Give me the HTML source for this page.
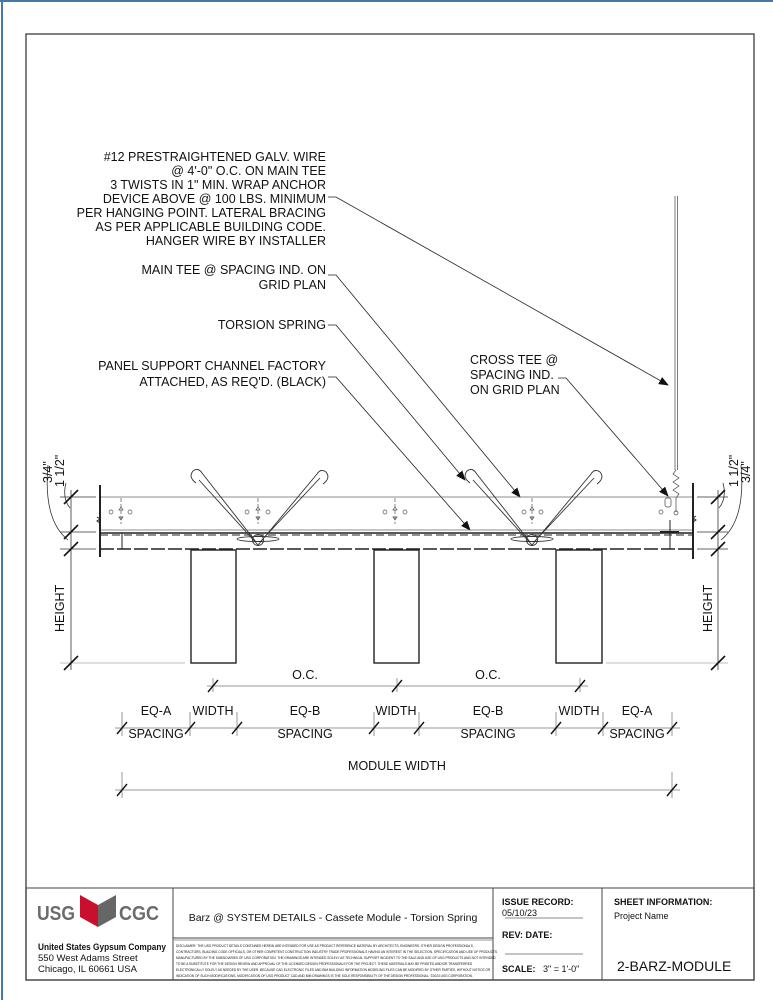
<!DOCTYPE html>
<html><head><meta charset="utf-8"><style>
html,body{margin:0;padding:0;background:#fff;}
svg{display:block;}
text{font-family:"Liberation Sans",Arial,sans-serif;fill:#111;}
</style></head><body>
<svg width="773" height="1000" viewBox="0 0 773 1000" xmlns="http://www.w3.org/2000/svg">
<defs>
<marker id="ar" markerWidth="10" markerHeight="8" refX="9" refY="4" orient="auto" markerUnits="userSpaceOnUse">
<path d="M0,0 L10,4 L0,8 z" fill="#111"/></marker>
</defs>
<rect x="0" y="0" width="773" height="1000" fill="#fff"/>
<line x1="0" y1="1" x2="773" y2="1" stroke="#4a78a6" stroke-width="2"/>
<line x1="2" y1="0" x2="2" y2="1000" stroke="#4a78a6" stroke-width="2"/>
<rect x="26" y="34" width="728" height="946" fill="none" stroke="#555" stroke-width="1.5"/>

<!-- notes -->
<g font-size="12.5" text-anchor="end">
<text x="326" y="161">#12 PRESTRAIGHTENED GALV. WIRE</text>
<text x="326" y="175">@ 4'-0" O.C. ON MAIN TEE</text>
<text x="326" y="189">3 TWISTS IN 1" MIN. WRAP ANCHOR</text>
<text x="326" y="203">DEVICE ABOVE @ 100 LBS. MINIMUM</text>
<text x="326" y="217">PER HANGING POINT. LATERAL BRACING</text>
<text x="326" y="231">AS PER APPLICABLE BUILDING CODE.</text>
<text x="326" y="245">HANGER WIRE BY INSTALLER</text>
<text x="326" y="274">MAIN TEE @ SPACING IND. ON</text>
<text x="326" y="289">GRID PLAN</text>
<text x="326" y="329">TORSION SPRING</text>
<text x="326" y="370">PANEL SUPPORT CHANNEL FACTORY</text>
<text x="326" y="386">ATTACHED, AS REQ'D. (BLACK)</text>
</g>
<g font-size="12.5">
<text x="470" y="364">CROSS TEE @</text>
<text x="470" y="379">SPACING IND.</text>
<text x="470" y="394">ON GRID PLAN</text>
</g>
<!-- leaders -->
<g stroke="#222" stroke-width="0.8" fill="none">
<path d="M328,197 L336,197 L668,385" marker-end="url(#ar)"/>
<path d="M328,275 L336,275 L520,497" marker-end="url(#ar)"/>
<path d="M328,325 L336,325 L465,480" marker-end="url(#ar)"/>
<path d="M328,377 L336,377 L470,530" marker-end="url(#ar)"/>
<path d="M558,378 L566,378 L668,496" marker-end="url(#ar)"/>
</g>
<!-- hanger wire -->
<g stroke="#444" stroke-width="0.7" fill="none">
<line x1="675" y1="196" x2="675" y2="470"/><line x1="677.5" y1="196" x2="677.5" y2="470"/>
<path d="M676,470 l-3,4 l6,4 l-6,4 l6,4 l-6,4 l6,4 l-3,4 L676,512"/>
<circle cx="676" cy="513" r="2"/>
<rect x="665" y="498" width="6" height="9" rx="2"/>
</g>

<!-- main tee assembly -->
<g stroke="#222" fill="none">
<line x1="100" y1="497" x2="693" y2="497" stroke-width="0.7" stroke="#666"/>
<line x1="100" y1="530" x2="693" y2="530" stroke-width="0.7" stroke="#666"/>
<line x1="100" y1="533" x2="693" y2="533" stroke-width="1.4"/>
<line x1="100" y1="535" x2="693" y2="535" stroke-width="1" stroke-dasharray="8,4"/>
<line x1="100" y1="549" x2="693" y2="549" stroke-width="1.5" stroke-dasharray="14,3"/>
<line x1="100" y1="485" x2="100" y2="557" stroke-width="2"/>
<line x1="693" y1="483" x2="693" y2="559" stroke-width="2"/>
<path d="M97,517 l3,2 l-3,2 l3,2" stroke-width="1"/>
<path d="M696,516 l-3,2 l3,2 l-3,2" stroke-width="1"/>
<line x1="122" y1="533" x2="122" y2="549" stroke-width="1"/>
<line x1="670" y1="520" x2="670" y2="549" stroke-width="1"/>
<line x1="660" y1="532" x2="679" y2="532" stroke-width="2"/>
<rect x="191" y="550" width="45" height="113" stroke-width="1.4"/>
<rect x="374" y="550" width="45" height="113" stroke-width="1.4"/>
<rect x="556" y="550" width="46" height="113" stroke-width="1.4"/>
</g>
<!-- holes and arrows -->
<g stroke="#555" stroke-width="0.7" fill="none">
<circle cx="111" cy="512" r="2"/><circle cx="130" cy="512" r="2"/>
<circle cx="247" cy="512" r="2"/><circle cx="268" cy="512" r="2"/>
<circle cx="385" cy="512" r="2"/><circle cx="405" cy="512" r="2"/>
<circle cx="524" cy="512" r="2"/><circle cx="541" cy="512" r="2"/>
<circle cx="661" cy="512" r="2"/>
<line x1="121" y1="498" x2="121" y2="524" stroke-dasharray="4,2"/>
<line x1="258" y1="498" x2="258" y2="524" stroke-dasharray="4,2"/>
<line x1="395" y1="498" x2="395" y2="524" stroke-dasharray="4,2"/>
<line x1="532" y1="498" x2="532" y2="524" stroke-dasharray="4,2"/>
<path d="M119,510 l2,-3 l2,3 z M119,517 l2,3 l2,-3 z M256,510 l2,-3 l2,3 z M256,517 l2,3 l2,-3 z M393,510 l2,-3 l2,3 z M393,517 l2,3 l2,-3 z M530,510 l2,-3 l2,3 z M530,517 l2,3 l2,-3 z"/>
</g>
<!-- springs -->
<g stroke="#333" stroke-width="0.9" fill="none">
<path d="M196,483 q-8,-6 -3,-12 q5,-4 9,2 L256,542 M199,480 L258,545 L317,474 q4,-6 9,-2 q5,6 -3,12 M320,478 L260,542"/>
<ellipse cx="258" cy="539" rx="21" ry="2.5"/><circle cx="258" cy="540" r="5.5"/>
<path d="M470,483 q-8,-6 -3,-12 q5,-4 9,2 L530,542 M473,480 L532,545 L591,474 q4,-6 9,-2 q5,6 -3,12 M594,478 L534,542"/>
<ellipse cx="532" cy="539" rx="21" ry="2.5"/><circle cx="532" cy="540" r="5.5"/>
</g>

<!-- left/right vertical dims -->
<g stroke="#333" stroke-width="0.8" fill="none">
<line x1="71" y1="490" x2="71" y2="670"/>
<line x1="60" y1="497" x2="96" y2="497"/><line x1="60" y1="532" x2="96" y2="532"/>
<line x1="60" y1="549" x2="96" y2="549"/><line x1="60" y1="663" x2="185" y2="663" stroke="#aaa"/>
<line x1="718" y1="490" x2="718" y2="670"/>
<line x1="697" y1="497" x2="728" y2="497"/><line x1="697" y1="532" x2="728" y2="532"/>
<line x1="697" y1="549" x2="728" y2="549"/><line x1="606" y1="663" x2="728" y2="663" stroke="#aaa"/>
<path d="M70,508 q-8,-10 -4,-25 M68,540 q-25,-20 -20,-75"/>
<path d="M719,508 q8,-10 4,-25 M721,540 q25,-20 20,-75"/>
</g>
<g stroke="#111" stroke-width="1.6">
<line x1="64" y1="504" x2="78" y2="490"/><line x1="64" y1="539" x2="78" y2="525"/><line x1="64" y1="556" x2="78" y2="542"/><line x1="64" y1="670" x2="78" y2="656"/>
<line x1="711" y1="504" x2="725" y2="490"/><line x1="711" y1="539" x2="725" y2="525"/><line x1="711" y1="556" x2="725" y2="542"/><line x1="711" y1="670" x2="725" y2="656"/>
</g>
<g font-size="12.5">
<text transform="translate(52,483) rotate(-90)">3/4"</text>
<text transform="translate(64,487) rotate(-90)">1 1/2"</text>
<text transform="translate(64,632) rotate(-90)">HEIGHT</text>
<text transform="translate(738,487) rotate(-90)">1 1/2"</text>
<text transform="translate(750,483) rotate(-90)">3/4"</text>
<text transform="translate(712,632) rotate(-90)">HEIGHT</text>
</g>

<!-- horizontal dims -->
<g stroke="#999" stroke-width="1" fill="none">
<line x1="207" y1="686" x2="588" y2="686"/>
<line x1="213" y1="678" x2="213" y2="692"/><line x1="397" y1="678" x2="397" y2="692"/><line x1="580" y1="678" x2="580" y2="692"/>
<line x1="115" y1="728" x2="680" y2="728"/>
<line x1="122" y1="712" x2="122" y2="736"/><line x1="190" y1="712" x2="190" y2="736"/><line x1="237" y1="712" x2="237" y2="736"/><line x1="374" y1="712" x2="374" y2="736"/><line x1="419" y1="712" x2="419" y2="736"/><line x1="556" y1="712" x2="556" y2="736"/><line x1="603" y1="712" x2="603" y2="736"/><line x1="672" y1="712" x2="672" y2="736"/>
<line x1="115" y1="790" x2="680" y2="790"/>
<line x1="122" y1="772" x2="122" y2="798"/><line x1="672" y1="772" x2="672" y2="798"/>
</g>
<g stroke="#111" stroke-width="1.4">
<line x1="208" y1="692" x2="218" y2="680"/><line x1="392" y1="692" x2="402" y2="680"/><line x1="575" y1="692" x2="585" y2="680"/>
<line x1="117" y1="734" x2="127" y2="722"/><line x1="185" y1="734" x2="195" y2="722"/><line x1="232" y1="734" x2="242" y2="722"/><line x1="369" y1="734" x2="379" y2="722"/><line x1="414" y1="734" x2="424" y2="722"/><line x1="551" y1="734" x2="561" y2="722"/><line x1="598" y1="734" x2="608" y2="722"/><line x1="667" y1="734" x2="677" y2="722"/>
<line x1="117" y1="796" x2="127" y2="784"/><line x1="667" y1="796" x2="677" y2="784"/>
</g>
<g font-size="12.5" text-anchor="middle">
<text x="305" y="679">O.C.</text><text x="488" y="679">O.C.</text>
<text x="156" y="715">EQ-A</text><text x="213" y="715">WIDTH</text><text x="305" y="715">EQ-B</text><text x="396" y="715">WIDTH</text><text x="488" y="715">EQ-B</text><text x="579" y="715">WIDTH</text><text x="637" y="715">EQ-A</text>
<text x="156" y="738">SPACING</text><text x="305" y="738">SPACING</text><text x="488" y="738">SPACING</text><text x="637" y="738">SPACING</text>
<text x="397" y="770">MODULE WIDTH</text>
</g>

<!-- title block -->
<g stroke="#444" stroke-width="1" fill="none">
<rect x="26" y="888" width="728" height="92"/>
<line x1="173" y1="888" x2="173" y2="980"/>
<line x1="493" y1="888" x2="493" y2="980"/>
<line x1="602" y1="888" x2="602" y2="980"/>
<line x1="173" y1="938" x2="493" y2="938"/>
<line x1="173" y1="940" x2="493" y2="940" stroke="#999"/>
<line x1="505" y1="918" x2="583" y2="918" stroke="#888"/>
<line x1="505" y1="954" x2="583" y2="954" stroke="#888"/>
</g>
<text x="37" y="920" font-size="20" font-weight="bold" textLength="38" lengthAdjust="spacingAndGlyphs" style="fill:#6b6b6b">USG</text>
<path d="M80,895 L98,905 L98,927 L80,917 z" fill="#c8102e"/>
<path d="M98,905 L116,895 L116,917 L98,927 z" fill="#666"/>
<text x="119" y="920" font-size="20" font-weight="bold" textLength="40" lengthAdjust="spacingAndGlyphs" style="fill:#6b6b6b">CGC</text>
<text x="38" y="950" font-size="9.5" font-weight="bold" textLength="128" lengthAdjust="spacingAndGlyphs">United States Gypsum Company</text>
<text x="38" y="961" font-size="9.5">550 West Adams Street</text>
<text x="38" y="972" font-size="9.5">Chicago, IL 60661 USA</text>
<text x="333" y="921" font-size="10.5" text-anchor="middle">Barz @ SYSTEM DETAILS - Cassete Module - Torsion Spring</text>
<g font-size="3.2" style="fill:#333">
<text x="176" y="947">DISCLAIMER: THE USG PRODUCT DETAILS CONTAINED HEREIN ARE INTENDED FOR USE AS PRODUCT REFERENCE MATERIAL BY ARCHITECTS, ENGINEERS, OTHER DESIGN PROFESSIONALS,</text>
<text x="176" y="953">CONTRACTORS, BUILDING CODE OFFICIALS, OR OTHER COMPETENT CONSTRUCTION INDUSTRY TRADE PROFESSIONALS HAVING AN INTEREST IN THE SELECTION, SPECIFICATION AND USE OF PRODUCTS</text>
<text x="176" y="959">MANUFACTURED BY THE SUBSIDIARIES OF USG CORPORATION. THE DRAWINGS ARE INTENDED SOLELY AS TECHNICAL SUPPORT INCIDENT TO THE SALE AND USE OF USG PRODUCTS AND NOT INTENDED</text>
<text x="176" y="965">TO BE A SUBSTITUTE FOR THE DESIGN REVIEW AND APPROVAL OF THE LICENSED DESIGN PROFESSIONALS FOR THE PROJECT. THESE MATERIALS MAY BE PRINTED AND/OR TRANSFERRED</text>
<text x="176" y="971">ELECTRONICALLY SOLELY AS NEEDED BY THE USER. BECAUSE CAD ELECTRONIC FILES AND BIM BUILDING INFORMATION MODELING FILES CAN BE MODIFIED BY OTHER PARTIES, WITHOUT NOTICE OR</text>
<text x="176" y="977">INDICATION OF SUCH MODIFICATIONS, MODIFICATION OF USG PRODUCT CAD AND BIM DRAWINGS IS THE SOLE RESPONSIBILITY OF THE DESIGN PROFESSIONAL. ©2023 USG CORPORATION.</text>
</g>
<text x="502" y="905" font-size="9" font-weight="bold">ISSUE RECORD:</text>
<text x="502" y="916" font-size="9">05/10/23</text>
<text x="502" y="938" font-size="9" font-weight="bold">REV:   DATE:</text>
<text x="502" y="972" font-size="9" font-weight="bold">SCALE:</text>
<text x="543" y="972" font-size="9">3" = 1'-0"</text>
<text x="614" y="905" font-size="9" font-weight="bold">SHEET INFORMATION:</text>
<text x="614" y="919" font-size="9">Project Name</text>
<text x="617" y="971" font-size="14">2-BARZ-MODULE</text>
</svg>
</body></html>
